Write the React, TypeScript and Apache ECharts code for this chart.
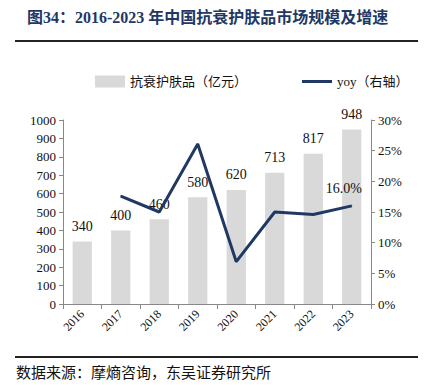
import React, { useEffect, useRef } from "react";
import * as echarts from "echarts";

const years = ["2016", "2017", "2018", "2019", "2020", "2021", "2022", "2023"];
const marketSize = [340, 400, 460, 580, 620, 713, 817, 948];
const yoy = [null, 17.6, 15.0, 26.1, 6.9, 15.0, 14.6, 16.0];
const leftTicks = { min: 0, max: 1000, interval: 100 };
const rightTicks = { min: 0, max: 30, interval: 5 };

const serif = "'Liberation Serif', 'Times New Roman', 'Noto Sans CJK SC', serif";
const navy = "#1f3864";

export default function App() {
  const ref = useRef<HTMLDivElement>(null);
  useEffect(() => {
    const chart = echarts.init(ref.current!, null, { renderer: "svg" });
    chart.setOption({
      animation: false,
      backgroundColor: "#fff",
      graphic: [
        {
          type: "text",
          left: 27,
          top: 9,
          style: {
            text: "图34：2016-2023 年中国抗衰护肤品市场规模及增速",
            font: "bold 16px 'Liberation Serif', 'Noto Sans CJK SC', serif",
            fill: navy,
          },
        },
        {
          type: "rect",
          shape: { x: 15, y: 40, width: 403, height: 2 },
          style: { fill: "#222" },
        },
        {
          type: "rect",
          shape: { x: 15, y: 356, width: 403, height: 2 },
          style: { fill: "#222" },
        },
        {
          type: "text",
          left: 16,
          top: 364,
          style: {
            text: "数据来源：摩熵咨询，东吴证券研究所",
            font: "15px 'Noto Sans CJK SC', sans-serif",
            fill: "#111",
          },
        },
      ],
      legend: {
        top: 70,
        left: 90,
        itemGap: 55,
        itemWidth: 30,
        itemHeight: 12,
        textStyle: { fontSize: 13, fontFamily: serif, color: "#111" },
        data: [
          { name: "抗衰护肤品（亿元）", icon: "rect" },
          { name: "yoy（右轴）", icon: "path://M0,0 L30,0 L30,3 L0,3 Z" },
        ],
      },
      grid: { left: 63, right: 54, top: 120, bottom: 81 },
      xAxis: {
        type: "category",
        data: years,
        boundaryGap: true,
        axisLine: { lineStyle: { color: "#888" } },
        axisTick: { show: true, inside: false, length: 5, lineStyle: { color: "#888" } },
        axisLabel: { rotate: 45, fontSize: 12, fontFamily: serif, color: "#111", margin: 8 },
      },
      yAxis: [
        {
          type: "value",
          ...leftTicks,
          position: "left",
          axisLine: { show: true, lineStyle: { color: "#888" } },
          axisTick: { show: true, length: 4, lineStyle: { color: "#888" } },
          splitLine: { show: false },
          axisLabel: { fontSize: 13, fontFamily: serif, color: "#111", margin: 7, formatter: (v: number) => String(v) },
        },
        {
          type: "value",
          ...rightTicks,
          position: "right",
          axisLine: { show: true, lineStyle: { color: "#888" } },
          axisTick: { show: true, length: 4, lineStyle: { color: "#888" } },
          splitLine: { show: false },
          axisLabel: { fontSize: 13, fontFamily: serif, color: "#111", margin: 7, formatter: "{value}%" },
        },
      ],
      series: [
        {
          name: "抗衰护肤品（亿元）",
          type: "bar",
          data: marketSize,
          barWidth: "50%",
          itemStyle: { color: "#d9d9d9" },
          label: {
            show: true,
            position: "top",
            distance: 8,
            fontSize: 14,
            fontFamily: serif,
            color: "#111",
          },
        },
        {
          name: "yoy（右轴）",
          type: "line",
          yAxisIndex: 1,
          data: yoy,
          symbol: "circle",
          symbolSize: 1,
          showSymbol: true,
          lineStyle: { color: navy, width: 3 },
          itemStyle: { color: navy },
          label: {
            show: true,
            position: "top",
            distance: 10,
            offset: [-8, 0],
            fontSize: 14,
            fontFamily: serif,
            color: "#111",
            formatter: (p: any) => (p.dataIndex === years.length - 1 ? Number(p.value).toFixed(1) + "%" : ""),
          },
        },
      ],
    });
    return () => chart.dispose();
  }, []);
  return <div ref={ref} style={{ width: 425, height: 385, position: "absolute", left: 0, top: 0 }} />;
}
